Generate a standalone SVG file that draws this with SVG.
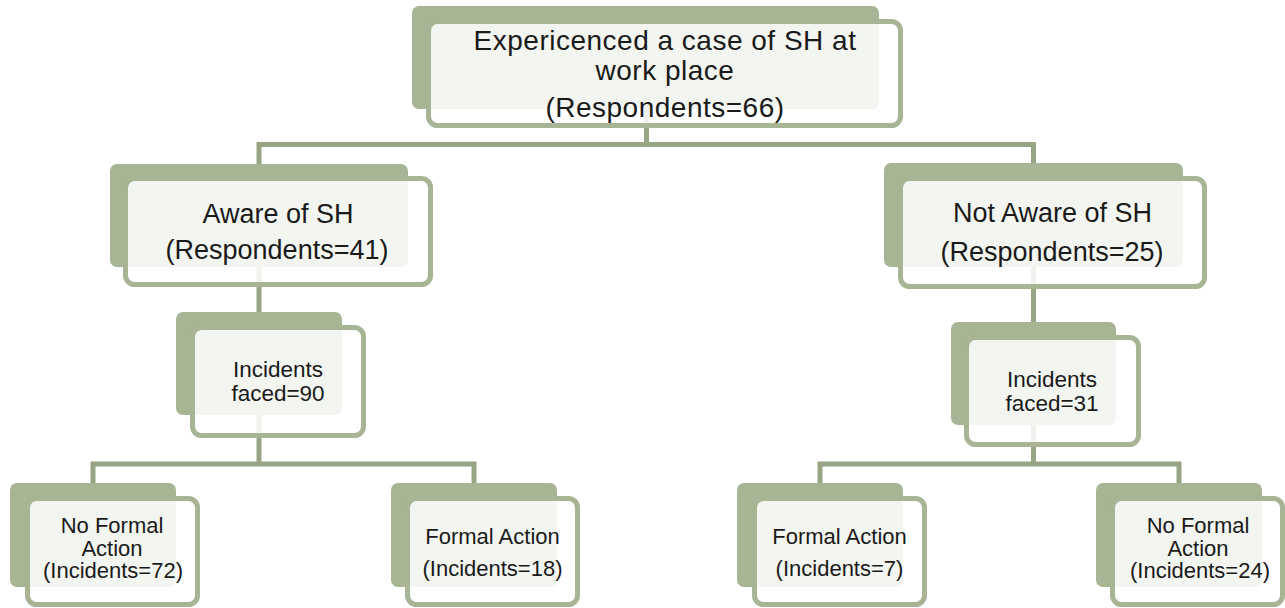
<svg xmlns="http://www.w3.org/2000/svg" width="1285" height="608" viewBox="0 0 1285 608">
<style>
.bk{fill:#A7B595;}
.fr{fill:#FFFFFF;fill-opacity:0.86;stroke:#A7B595;stroke-width:5;}
.cn{fill:none;stroke:#97A584;stroke-width:5;stroke-linejoin:miter;}
text{font-family:"Liberation Sans",Arial,sans-serif;fill:#1A1A1A;text-anchor:middle;}
.t1{font-size:28px;letter-spacing:0.5px;}
.t2{font-size:27px;}
.t3{font-size:22.5px;}
.t4{font-size:22px;}
</style>
<rect width="1285" height="608" fill="#FFFFFF"/>
<g id="connectors">
<path class="cn" d="M646.5,100 V144.5 M259,166 V144.5 H1033.5 V166"/>
<path class="cn" d="M259,260 V314"/>
<path class="cn" d="M1033.5,260 V324"/>
<path class="cn" d="M259,410 V464 M93,485 V464 H474 V485"/>
<path class="cn" d="M1033.5,420 V464 M820,485 V464 H1179 V485"/>
</g>
<g id="node-top">
<rect class="bk" x="412" y="6" width="467" height="103" rx="7"/>
<rect class="fr" x="428.5" y="21.5" width="472" height="104" rx="9"/>
<text class="t1" x="665" y="50">Expericenced a case of SH at</text>
<text class="t1" x="665" y="80">work place</text>
<text class="t1" x="665" y="117">(Respondents=66)</text>
</g>
<g id="node-aware">
<rect class="bk" x="110" y="164" width="298" height="103" rx="7"/>
<rect class="fr" x="125.5" y="178.5" width="305" height="106" rx="9"/>
<text class="t2" x="278" y="223">Aware of SH</text>
<text class="t2" x="277" y="258.5">(Respondents=41)</text>
</g>
<g id="node-notaware">
<rect class="bk" x="884" y="163" width="299" height="104" rx="7"/>
<rect class="fr" x="900.5" y="178.5" width="304" height="108" rx="9"/>
<text class="t2" x="1052.5" y="222">Not Aware of SH</text>
<text class="t2" x="1052" y="261">(Respondents=25)</text>
</g>
<g id="node-inc90">
<rect class="bk" x="176" y="312" width="166" height="103" rx="7"/>
<rect class="fr" x="192.5" y="327.5" width="171" height="108" rx="9"/>
<text class="t3" x="278" y="377">Incidents</text>
<text class="t3" x="278" y="401">faced=90</text>
</g>
<g id="node-inc31">
<rect class="bk" x="951" y="322" width="165" height="103" rx="7"/>
<rect class="fr" x="966.5" y="337.5" width="172" height="107" rx="9"/>
<text class="t3" x="1052" y="387">Incidents</text>
<text class="t3" x="1052" y="411">faced=31</text>
</g>
<g id="node-nfa72">
<rect class="bk" x="10" y="483" width="166" height="104" rx="7"/>
<rect class="fr" x="27.5" y="498.5" width="170" height="106" rx="9"/>
<text class="t4" x="112" y="533">No Formal</text>
<text class="t4" x="112" y="555.5">Action</text>
<text class="t4" x="113" y="578">(Incidents=72)</text>
</g>
<g id="node-fa18">
<rect class="bk" x="391" y="483" width="166" height="104" rx="7"/>
<rect class="fr" x="407.5" y="498.5" width="170" height="106" rx="9"/>
<text class="t4" x="492.5" y="544">Formal Action</text>
<text class="t4" x="492.5" y="576">(Incidents=18)</text>
</g>
<g id="node-fa7">
<rect class="bk" x="737" y="483" width="166" height="104" rx="7"/>
<rect class="fr" x="754.5" y="498.5" width="170" height="106" rx="9"/>
<text class="t4" x="839.5" y="544">Formal Action</text>
<text class="t4" x="839.5" y="576">(Incidents=7)</text>
</g>
<g id="node-nfa24">
<rect class="bk" x="1096" y="483" width="166" height="104" rx="7"/>
<rect class="fr" x="1112.5" y="498.5" width="170" height="106" rx="9"/>
<text class="t4" x="1198" y="533">No Formal</text>
<text class="t4" x="1198" y="555.5">Action</text>
<text class="t4" x="1200" y="578">(Incidents=24)</text>
</g>
</svg>
